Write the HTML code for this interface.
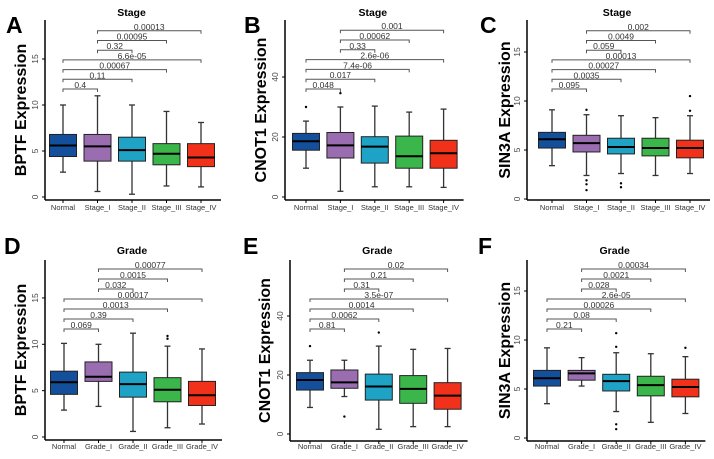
<!DOCTYPE html>
<html><head><meta charset="utf-8"><style>
html,body{margin:0;padding:0;background:#fff}
svg{display:block;font-family:"Liberation Sans",Arial,sans-serif}
</style></head><body>
<svg id="fig" width="714" height="459" viewBox="0 0 714 459"></svg>
<script>
const NS="http://www.w3.org/2000/svg";
const colors=["#134f9a","#9a6cb0","#1ea3c6","#3bb64a","#f2311b"];
const stageCats=["Normal","Stage_I","Stage_II","Stage_III","Stage_IV"];
const gradeCats=["Normal","Grade_I","Grade_II","Grade_III","Grade_IV"];
// box stats: [low, q1, median, q3, high]
const statsA=[[2.7,4.4,5.6,6.8,10],[0.6,3.9,5.5,6.8,11],[0.3,3.9,5.1,6.5,10],[1.2,3.5,4.7,5.8,9.3],[1.1,3.3,4.3,5.8,8.1]];
const statsB=[[9.6,15.6,18.6,21.2,25.3],[1.9,13,17.2,21.5,30],[3.4,11.3,16.8,20.1,30.3],[3.4,9.6,13.6,20.3,28.3],[3.2,9.6,14.6,18.9,29.3]];
const statsC=[[3.4,5.2,6.1,6.8,9.1],[2.4,4.8,5.7,6.5,8.6],[2.6,4.6,5.3,6.2,8.5],[2.4,4.4,5.2,6.2,8.3],[2.6,4.2,5.2,6.0,8.5]];
const statsD=[[2.9,4.6,5.9,7.1,10.1],[3.3,6.0,6.5,8.1,10],[0.6,4.3,5.7,7.0,11.2],[1.0,3.8,5.1,6.4,9.8],[1.4,3.4,4.5,6.0,9.5]];
const statsE=[[9,14.9,18.3,20.8,25],[12.7,15.5,17.5,21.7,25],[1.6,11.5,16.1,20.3,29.8],[2.5,10.4,15.3,19.8,28.7],[2.5,8.4,13,17.4,29]];
const statsF=[[3.5,5.3,6.1,6.9,9.2],[5.3,5.9,6.6,6.9,8.2],[2.7,4.8,5.8,6.5,8.7],[1.6,4.3,5.4,6.3,8.6],[2.5,4.2,5.2,6.0,8.3]];
const outA=[[],[],[],[],[]];
const outB=[[30],[34.6],[],[],[]];
const outC=[[],[9.1,1.9,1.5,0.9],[1.6,1.2],[],[9,10.5]];
const outD=[[],[],[],[10.6,10.9],[]];
const outE=[[29.8],[5.9],[34.4],[],[]];
const outF=[[],[],[10.7,9.3,1.4,0.9],[],[9.2]];
// bracket pairs bottom-to-top and p-values
const pairs=[[0,1],[0,2],[0,3],[0,4],[1,2],[1,3],[1,4]];
const pA=["0.4","0.11","0.00067","6.6e-05","0.32","0.00095","0.00013"];
const pB=["0.048","0.017","7.4e-06","2.6e-06","0.33","0.00062","0.001"];
const pC=["0.095","0.0035","0.00027","0.00013","0.059","0.0049","0.002"];
const pD=["0.069","0.39","0.0013","0.00017","0.032","0.0015","0.00077"];
const pE=["0.81","0.0062","0.0014","3.5e-07","0.31","0.21","0.02"];
const pF=["0.21","0.08","0.00026","2.6e-05","0.028","0.0021","0.00034"];
const ticks15=[0,5,10,15], ticks40=[0,20,40];

const panels=[
 {id:"a",letter:"A",lx:6,ly:33,title:"Stage",ylab:"BPTF Expression",cats:stageCats,stats:statsA,out:outA,p:pA,ticks:ticks15,
  ax:45,top:20,bot:200,y0:197,ppu:9.2,c0:63,step:34.5,tY:16,xlY:210,bY:89,bS:9.7,ylx:22},
 {id:"b",letter:"B",lx:244,ly:33,title:"Stage",ylab:"CNOT1 Expression",cats:stageCats,stats:statsB,out:outB,p:pB,ticks:ticks40,
  ax:285,top:20,bot:200,y0:197,ppu:3.0,c0:306,step:34.4,tY:16,xlY:210,bY:89,bS:9.8,ylx:262},
 {id:"c",letter:"C",lx:480,ly:33,title:"Stage",ylab:"SIN3A Expression",cats:stageCats,stats:statsC,out:outC,p:pC,ticks:ticks15,
  ax:527,top:20,bot:200,y0:199,ppu:9.8,c0:552,step:34.5,tY:16,xlY:210,bY:89,bS:9.7,ylx:506},
 {id:"d",letter:"D",lx:4,ly:254,title:"Grade",ylab:"BPTF Expression",cats:gradeCats,stats:statsD,out:outD,p:pD,ticks:ticks15,
  ax:45,top:260,bot:440,y0:437,ppu:9.27,c0:64,step:34.5,tY:254,xlY:449,bY:329,bS:10,ylx:22},
 {id:"e",letter:"E",lx:243,ly:254,title:"Grade",ylab:"CNOT1 Expression",cats:gradeCats,stats:statsE,out:outE,p:pE,ticks:ticks40,
  ax:290,top:260,bot:441,y0:434,ppu:2.95,c0:310,step:34.4,tY:254,xlY:449,bY:329,bS:10,ylx:266},
 {id:"f",letter:"F",lx:478,ly:254,title:"Grade",ylab:"SIN3A Expression",cats:gradeCats,stats:statsF,out:outF,p:pF,ticks:ticks15,
  ax:527,top:260,bot:441,y0:438,ppu:9.8,c0:547,step:34.6,tY:254,xlY:449,bY:329,bS:10,ylx:506}
];
const svg=document.getElementById("fig");
function mk(tag,attrs,parent,text){const e=document.createElementNS(NS,tag);for(const k in attrs)e.setAttribute(k,attrs[k]);if(text!==undefined)e.textContent=text;(parent||svg).appendChild(e);return e;}

panels.forEach(P=>{
  const g=mk("g",{});
  
  
  const Y=v=>P.y0-v*P.ppu;
  const X=i=>P.c0+i*P.step;
  const L=mk("text",{x:P.lx,y:P.ly,"font-size":23,"font-weight":"bold",fill:"#000"},g,P.letter);
  
  
  const mid=(P.ax+X(4)+17)/2;
  const T=mk("text",{x:mid,y:P.tY,"font-size":10.5,"font-weight":"bold","text-anchor":"middle"},g,P.title);
  
  
  const yl=(P.top+P.bot)/2;
  const YL=mk("text",{x:P.ylx,y:yl,"font-size":16,"font-weight":"bold","text-anchor":"middle",transform:`rotate(-90 ${P.ylx} ${yl})`,"dominant-baseline":"middle"},g,P.ylab);
  
  
  const ya=mk("line",{x1:P.ax,y1:P.top,x2:P.ax,y2:P.bot,stroke:"#000","stroke-width":1.5},g);
  
  
  const xa=mk("line",{x1:P.ax,y1:P.bot,x2:X(4)+20,y2:P.bot,stroke:"#000","stroke-width":1.5},g);
  
  
  P.ticks.forEach(t=>{
    const ty=Y(t);
    const tk=mk("line",{x1:P.ax-3,y1:ty,x2:P.ax,y2:ty,stroke:"#000"},g);
    
    
    const tx=P.ax-7;
    const tl=mk("text",{x:tx,y:ty,"font-size":8.5,fill:"#444","text-anchor":"middle",transform:`rotate(-90 ${tx} ${ty})`},g,String(t));
    
    
  });
  P.cats.forEach((c,i)=>{
    const cx=X(i), s=P.stats[i], w=13.5;
    const tk=mk("line",{x1:cx,y1:P.bot,x2:cx,y2:P.bot+3,stroke:"#000"},g);
    
    
    const xl=mk("text",{x:cx,y:P.xlY,"font-size":7.5,fill:"#333","text-anchor":"middle"},g,c);
    
    
    const wh=mk("line",{x1:cx,y1:Y(s[0]),x2:cx,y2:Y(s[4]),stroke:"#333","stroke-width":1.3},g);
    
    
    [s[0],s[4]].forEach(v=>{
      const cap=mk("line",{x1:cx-3,y1:Y(v),x2:cx+3,y2:Y(v),stroke:"#333","stroke-width":1.3},g);
      
      
    });
    const b=mk("rect",{x:cx-w,y:Y(s[3]),width:2*w,height:Y(s[1])-Y(s[3]),fill:colors[i],stroke:"#222","stroke-width":1},g);
    
    
    const m=mk("line",{x1:cx-w,y1:Y(s[2]),x2:cx+w,y2:Y(s[2]),stroke:"#000","stroke-width":2},g);
    
    
    P.out[i].forEach(v=>{
      const o=mk("circle",{cx:cx,cy:Y(v),r:1.2,fill:"#000"},g);
      
      
    });
  });
  pairs.forEach((pr,k)=>{
    const by=P.bY-k*P.bS, x1=X(pr[0]), x2=X(pr[1]);
    const br=mk("path",{d:`M${x1} ${by+3}V${by}H${x2}V${by+3}`,fill:"none",stroke:"#555","stroke-width":1},g);
    
    
    const pl=mk("text",{x:(x1+x2)/2,y:by-1,"font-size":8.5,fill:"#333","text-anchor":"middle"},g,P.p[k]);
    
    
  });
});
</script>
</body></html>
